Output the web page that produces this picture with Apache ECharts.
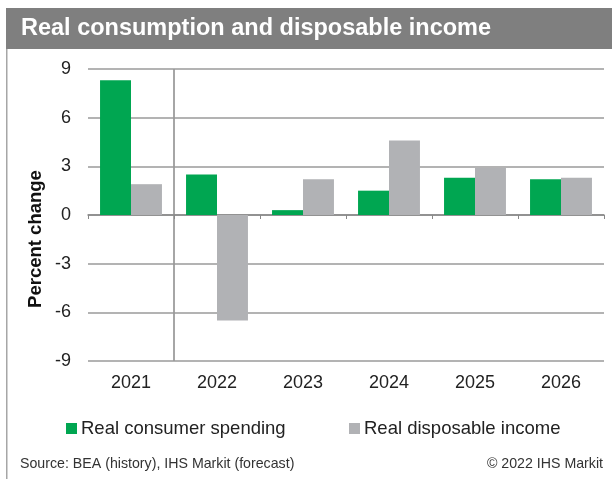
<!DOCTYPE html>
<html>
<head>
<meta charset="utf-8">
<script src="https://cdn.jsdelivr.net/npm/echarts@6/dist/echarts.min.js"></script>
<style>
  html, body { margin: 0; padding: 0; background: #fff; }
  #chart { width: 612px; height: 479px; }
</style>
</head>
<body>
<div id="chart"></div>
<script>
// Annual percent change, 2021 is history, 2022 onward is forecast
const years = ['2021', '2022', '2023', '2024', '2025', '2026'];
const consumerSpending = [8.3, 2.5, 0.3, 1.5, 2.3, 2.2];
const disposableIncome = [1.9, -6.5, 2.2, 4.6, 2.9, 2.3];
const yTicks = { min: -9, max: 9, step: 3 };

const FONT = '"Liberation Sans", Arial, sans-serif';
const GREEN = '#00a651';
const GREY = '#b1b2b5';

const chart = echarts.init(document.getElementById('chart'));

const baseGraphics = [
  // title band
  { type: 'rect', shape: { x: 6, y: 8, width: 606, height: 41 }, style: { fill: '#7f7f7f' }, silent: true },
  { type: 'text', x: 21, y: 29, style: { text: 'Real consumption and disposable income', fill: '#fff', font: 'bold 23.5px ' + FONT, verticalAlign: 'middle' } },
  // left frame line
  { type: 'rect', shape: { x: 6, y: 49, width: 1.5, height: 430 }, style: { fill: '#a6a6a6' }, silent: true },
  // y axis title
  { type: 'text', x: 36, y: 239, rotation: Math.PI / 2, style: { text: 'Percent change', fill: '#111', font: 'bold 18.5px ' + FONT, align: 'center', verticalAlign: 'middle' } },
  // footer
  { type: 'text', x: 20, y: 464, style: { text: 'Source: BEA (history), IHS Markit (forecast)', fill: '#333', font: '14.2px ' + FONT, verticalAlign: 'middle' } },
  { type: 'text', x: 603, y: 464, style: { text: '\u00a9 2022 IHS Markit', fill: '#333', font: '14.2px ' + FONT, align: 'right', verticalAlign: 'middle' } }
];

const legendBase = {
  top: 419,
  padding: 0,
  itemWidth: 11,
  itemHeight: 11,
  icon: 'rect',
  textStyle: { fontSize: 18.5, color: '#222', padding: [0, 0, 0, -1] }
};

chart.setOption({
  animation: false,
  textStyle: { fontFamily: FONT },
  grid: { left: 88, right: 8, top: 69, bottom: 118, outerBoundsMode: 'none', containLabel: false },
  legend: [
    Object.assign({}, legendBase, { left: 66, data: ['Real consumer spending'] }),
    Object.assign({}, legendBase, { left: 349, data: ['Real disposable income'] })
  ],
  xAxis: [
    {
      // zero line with category dividers
      type: 'category',
      data: years,
      axisLine: { onZero: true, lineStyle: { color: '#888', width: 1.5 } },
      axisTick: { show: true, length: 4, lineStyle: { color: '#888' } },
      axisLabel: { show: false }
    },
    {
      // year labels along the bottom of the plot
      type: 'category',
      data: years,
      position: 'bottom',
      axisLine: { show: false, onZero: false },
      axisTick: { show: false },
      axisLabel: { fontSize: 18, color: '#222', margin: 13 }
    }
  ],
  yAxis: {
    type: 'value',
    min: yTicks.min,
    max: yTicks.max,
    interval: yTicks.step,
    axisLine: { show: false },
    axisTick: { show: false },
    axisLabel: { fontSize: 18, color: '#222', margin: 17 },
    splitLine: { lineStyle: { color: '#9a9a9a', width: 1.5 } }
  },
  series: [
    {
      name: 'Real consumer spending', type: 'bar', data: consumerSpending,
      itemStyle: { color: GREEN }, barGap: '0%', barCategoryGap: '28%'
    },
    {
      name: 'Real disposable income', type: 'bar', data: disposableIncome,
      itemStyle: { color: GREY }, barGap: '0%', barCategoryGap: '28%'
    }
  ],
  graphic: baseGraphics
});

// separator between history and forecast
const topY = chart.convertToPixel({ yAxisIndex: 0 }, yTicks.max);
const bottomY = chart.convertToPixel({ yAxisIndex: 0 }, yTicks.min);
const x0 = chart.convertToPixel({ xAxisIndex: 0 }, 0);
const x1 = chart.convertToPixel({ xAxisIndex: 0 }, 1);
const sepX = (x0 + x1) / 2;

chart.setOption({
  graphic: baseGraphics.concat([
    { type: 'line', shape: { x1: sepX, y1: topY, x2: sepX, y2: bottomY }, style: { stroke: '#888', lineWidth: 1.5 }, silent: true }
  ])
});
</script>
</body>
</html>
